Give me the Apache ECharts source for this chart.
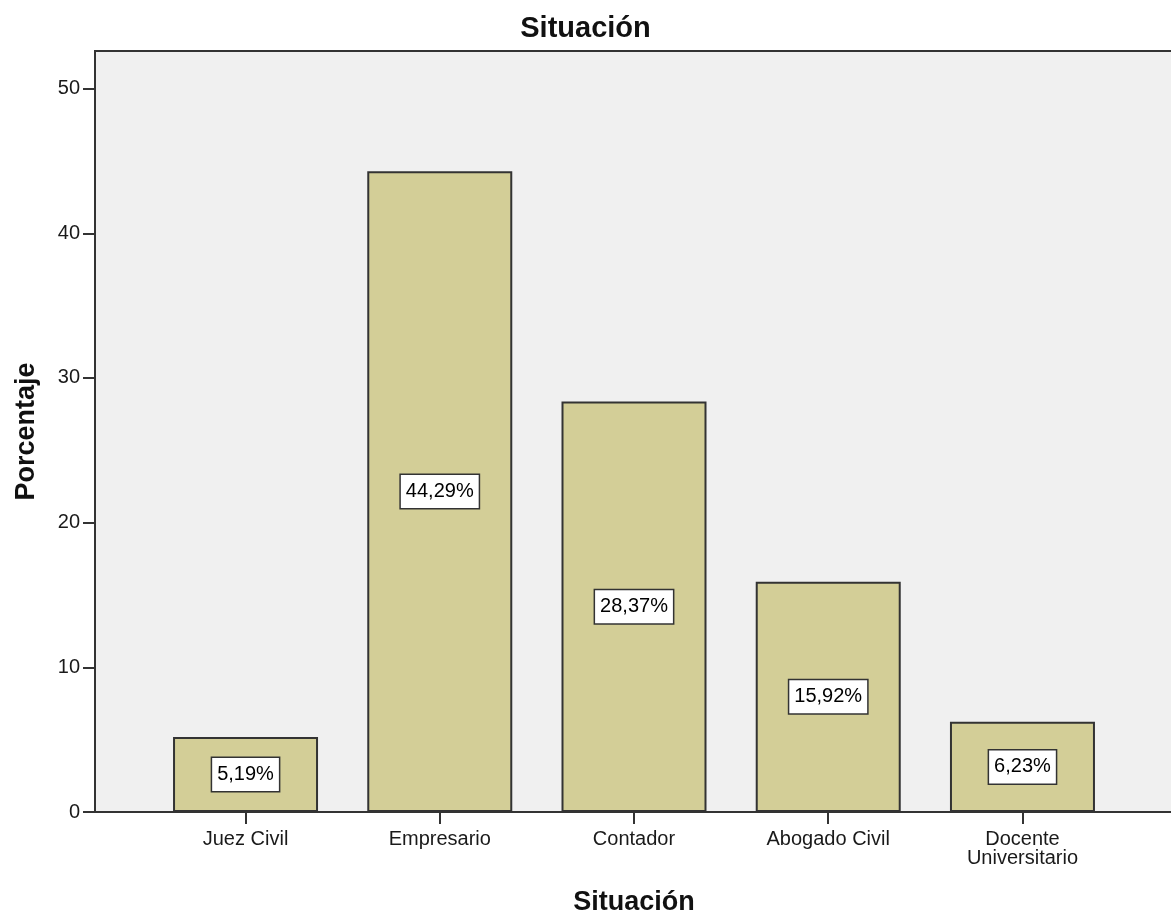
<!DOCTYPE html>
<html>
<head>
<meta charset="utf-8">
<script src="https://cdn.jsdelivr.net/npm/echarts@6/dist/echarts.min.js"></script>
<style>
  html, body { margin: 0; padding: 0; background: #ffffff; }
  #chart { width: 1171px; height: 917px; }
</style>
</head>
<body>
<div id="chart"></div>
<script>
// Situación: percentage of respondents per occupation
const categories = ['Juez Civil', 'Empresario', 'Contador', 'Abogado Civil', 'Docente\nUniversitario'];
const percentages = [5.19, 44.29, 28.37, 15.92, 6.23];
const yTicks = [0, 10, 20, 30, 40, 50];
const catPositions = categories.map((_, i) => i);

const FONT = 'Liberation Sans, Arial, Helvetica, sans-serif';
const INK = '#1a1a1a';
const LINE = '#333333';

const chart = echarts.init(document.getElementById('chart'), null, { renderer: 'canvas' });

const fmtPct = v => v.toFixed(2).replace('.', ',') + '%';

chart.setOption({
  animation: false,
  backgroundColor: '#ffffff',
  title: {
    text: 'Situación',
    left: 'center',
    top: 9,
    textStyle: { fontFamily: FONT, fontSize: 29, fontWeight: 'bold', color: '#111111' }
  },
  grid: {
    left: 95,
    right: -2,
    top: 51,
    bottom: 105,
    show: true,
    backgroundColor: '#f0f0f0',
    borderColor: LINE,
    borderWidth: 2,
    containLabel: false,
    outerBoundsMode: 'none'
  },
  xAxis: {
    type: 'value',
    min: -0.775,
    max: 4.775,
    name: 'Situación',
    nameLocation: 'middle',
    nameGap: 77,
    nameTextStyle: { fontFamily: FONT, fontSize: 27, fontWeight: 'bold', color: '#111111' },
    splitLine: { show: false },
    axisLine: { show: true, onZero: false, lineStyle: { color: LINE, width: 2 } },
    axisTick: { show: true, customValues: catPositions, length: 12, lineStyle: { color: LINE, width: 2 } },
    axisLabel: {
      customValues: catPositions,
      formatter: v => categories[Math.round(v)],
      margin: 18,
      fontFamily: FONT,
      fontSize: 20,
      lineHeight: 19,
      color: INK
    }
  },
  yAxis: {
    type: 'value',
    min: 0,
    max: 52.6,
    name: 'Porcentaje',
    nameLocation: 'middle',
    nameRotate: 90,
    nameGap: 55,
    nameTextStyle: { fontFamily: FONT, fontSize: 27, fontWeight: 'bold', color: '#111111' },
    splitLine: { show: false },
    axisLine: { show: true, onZero: false, lineStyle: { color: LINE, width: 2 } },
    axisTick: { show: true, customValues: yTicks, length: 12, lineStyle: { color: LINE, width: 2 } },
    axisLabel: {
      customValues: yTicks,
      margin: 15,
      fontFamily: FONT,
      fontSize: 20,
      color: INK
    }
  },
  series: [{
    type: 'bar',
    data: percentages.map((v, i) => [catPositions[i], v]),
    barWidth: 145,
    itemStyle: { color: '#d3ce97', borderColor: '#333333', borderWidth: 2 },
    label: {
      show: true,
      position: 'inside',
      formatter: p => fmtPct(p.value[1]),
      fontFamily: FONT,
      fontSize: 20,
      lineHeight: 20,
      color: '#000000',
      backgroundColor: '#ffffff',
      borderColor: '#333333',
      borderWidth: 1.5,
      padding: [7, 5, 6, 5]
    }
  }]
});
</script>
</body>
</html>
